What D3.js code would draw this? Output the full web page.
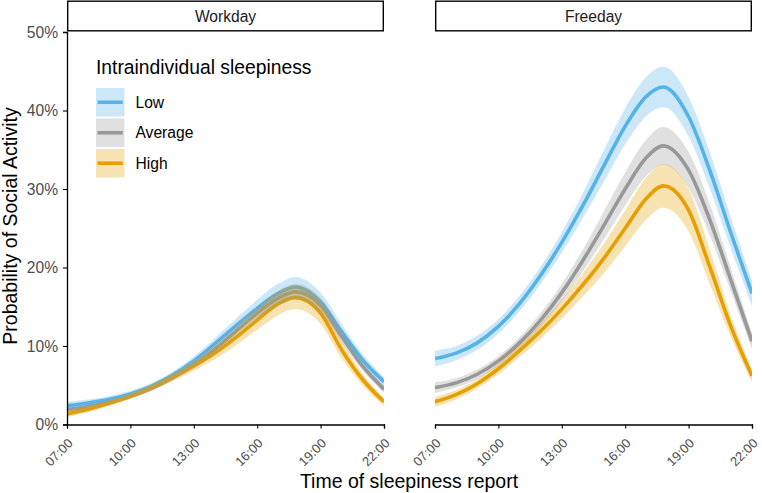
<!DOCTYPE html>
<html><head><meta charset="utf-8">
<script src="https://cdn.jsdelivr.net/npm/d3@7"></script>
<style>body{margin:0;background:#fff}svg{display:block}text{font-family:"Liberation Sans",Arial,sans-serif}</style>
</head><body>
<svg id="chart" width="762" height="493"></svg>
<script>
const hours = [7,8,9,10,11,12,13,14,15,16,17,17.8,19,20,21,22];
const xTicks = [7,10,13,16,19,22];
const xTickLabels = ["07:00","10:00","13:00","16:00","19:00","22:00"];
const yTicks = [0,0.1,0.2,0.3,0.4,0.5];
const panels = ["Workday","Freeday"];
const levels = ["Low","Average","High"];
const colors = ["#56B4E9","#999999","#E69F00"];

// fitted probability (%) per hour
const workLow  = [2.4,2.75,3.2,3.9,4.9,6.3,8.1,10.3,12.6,14.8,16.7,17.5,15.6,11.8,8.2,5.45];
const workAvg  = [1.9,2.3,2.85,3.6,4.6,5.95,7.6,9.6,11.9,14.2,16.1,16.9,15.2,11.2,7.4,4.5];
const workHigh = [1.35,1.95,2.7,3.6,4.7,6.0,7.45,9.1,11.1,13.3,15.4,16.2,14.2,9.5,5.7,2.9];
const freeLow  = [8.4,9.1,10.4,12.5,15.4,19.0,23.2,27.9,33.0,38.0,41.8,43.0,39.2,32.4,24.4,16.7];
const freeAvg  = [4.7,5.3,6.4,8.1,10.4,13.3,16.8,20.9,25.4,30.0,34.0,35.5,32.4,26.1,18.4,10.6];
const freeHigh = [2.9,3.8,5.2,7.1,9.4,11.9,14.7,17.8,21.2,25.0,28.8,30.4,27.3,20.1,12.5,6.2];
// confidence half-widths (%)
const workLowHW  = [0.5,0.45,0.4,0.4,0.4,0.45,0.55,0.7,0.9,1.1,1.25,1.3,1.2,0.95,0.75,0.6];
const workAvgHW  = [0.4,0.35,0.3,0.3,0.3,0.35,0.45,0.55,0.7,0.85,0.95,1.0,0.95,0.8,0.6,0.5];
const workHighHW = [0.4,0.4,0.35,0.35,0.4,0.5,0.6,0.8,1.0,1.25,1.45,1.5,1.4,1.1,0.75,0.5];
const freeLowHW  = [1.0,0.9,0.9,0.9,1.0,1.1,1.3,1.6,2.0,2.3,2.5,2.6,2.5,2.3,2.0,1.6];
const freeAvgHW  = [0.7,0.6,0.6,0.6,0.7,0.9,1.1,1.4,1.8,2.1,2.3,2.4,2.3,2.0,1.5,1.0];
const freeHighHW = [0.6,0.6,0.6,0.7,0.8,1.0,1.2,1.5,1.9,2.3,2.7,2.8,2.7,2.2,1.4,0.8];

const fits = [[workLow,workAvg,workHigh],[freeLow,freeAvg,freeHigh]];
const hws  = [[workLowHW,workAvgHW,workHighHW],[freeLowHW,freeAvgHW,freeHighHW]];

const svg = d3.select("#chart");
const panelX = [[67,384],[435,752]];
const y = d3.scaleLinear().domain([0,0.5]).range([424.5,32]);
const curve = d3.curveMonotoneX;

panels.forEach((pname, pi) => {
  const x = d3.scaleLinear().domain([7,22]).range(panelX[pi]);
  const g = svg.append("g");
  const clipId = "clip"+pi;
  svg.append("clipPath").attr("id",clipId).append("rect")
    .attr("x",panelX[pi][0]).attr("y",31).attr("width",panelX[pi][1]-panelX[pi][0]).attr("height",394);
  const pg = g.append("g").attr("clip-path",`url(#${clipId})`);
  // lines first
  levels.forEach((lv, li) => {
    const pts = hours.map((h,i)=>({h, v:fits[pi][li][i]/100}));
    pg.append("path").datum(pts)
      .attr("fill","none").attr("stroke",colors[li]).attr("stroke-width",3.6)
      .attr("d", d3.line().x(d=>x(d.h)).y(d=>y(d.v)).curve(curve));
  });
  // ribbons on top
  levels.forEach((lv, li) => {
    const pts = hours.map((h,i)=>({h, lo:(fits[pi][li][i]-hws[pi][li][i])/100, hi:(fits[pi][li][i]+hws[pi][li][i])/100}));
    pg.append("path").datum(pts)
      .attr("fill",colors[li]).attr("fill-opacity",0.3).attr("stroke","none")
      .attr("d", d3.area().x(d=>x(d.h)).y0(d=>y(d.lo)).y1(d=>y(d.hi)).curve(curve));
  });
  // x axis
  const xa = g.append("g").attr("transform","translate(0,424.5)")
    .call(d3.axisBottom(x).tickValues(xTicks).tickSize(4).tickFormat((d,i)=>xTickLabels[i]));
  xa.select(".domain").attr("stroke","#000").attr("stroke-width",1.3);
  xa.selectAll(".tick line").attr("stroke","#000").attr("stroke-width",1.1);
  xa.selectAll(".tick text").attr("fill","#4D4D4D").style("font-size","13px")
    .attr("text-anchor","end").attr("x",0).attr("y",0).attr("dy",null)
    .attr("transform","translate(6,19.5) rotate(-45)");
  // strip
  g.append("rect").attr("x",panelX[pi][0]+0.7).attr("y",1.2).attr("width",panelX[pi][1]-panelX[pi][0]-1.4).attr("height",29.6)
    .attr("fill","#fff").attr("stroke","#000").attr("stroke-width",1.4);
  g.append("text").attr("x",(panelX[pi][0]+panelX[pi][1])/2).attr("y",21.5)
    .attr("text-anchor","middle").attr("fill","#1A1A1A").style("font-size","15.6px").text(pname);
});

// y axis (left panel only)
const ya = svg.append("g").attr("transform","translate(67,0)")
  .call(d3.axisLeft(y).tickValues(yTicks).tickSize(4).tickFormat(d3.format(".0%")));
ya.select(".domain").attr("stroke","#000").attr("stroke-width",1.3);
ya.selectAll(".tick line").attr("stroke","#000").attr("stroke-width",1.1);
ya.selectAll(".tick text").attr("fill","#4D4D4D").style("font-size","15.6px").attr("x",-9);

// axis titles
svg.append("text").attr("x",409).attr("y",488).attr("text-anchor","middle")
  .style("font-size","19.5px").attr("fill","#000").text("Time of sleepiness report");
svg.append("text").attr("transform","translate(16.5,226) rotate(-90)").attr("text-anchor","middle")
  .style("font-size","19.5px").attr("fill","#000").text("Probability of Social Activity");

// legend
const lg = svg.append("g");
lg.append("text").attr("x",96).attr("y",74).style("font-size","19.3px").attr("fill","#000").text("Intraindividual sleepiness");
levels.forEach((lv, li) => {
  const ky = 88 + li*30.5;
  lg.append("rect").attr("x",96).attr("y",ky).attr("width",28.5).attr("height",28.5)
    .attr("fill",colors[li]).attr("fill-opacity",0.3);
  lg.append("line").attr("x1",97.5).attr("x2",122.8).attr("y1",ky+14.25).attr("y2",ky+14.25)
    .attr("stroke",colors[li]).attr("stroke-width",3.6);
  lg.append("text").attr("x",135.5).attr("y",ky+19.8).style("font-size","15.6px").attr("fill","#000").text(lv);
});
</script>
</body></html>
